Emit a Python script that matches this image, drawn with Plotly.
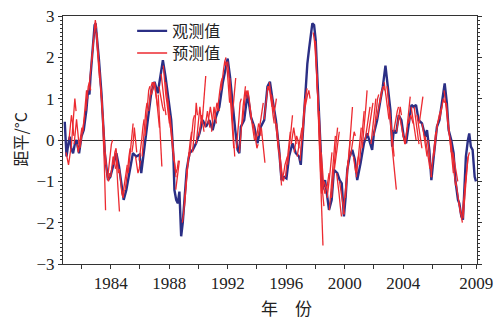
import plotly.graph_objects as go

# ---------------- data ----------------
obs_year = [1980.86, 1980.98, 1981.10, 1981.20, 1981.30, 1981.43, 1981.55, 1981.66, 1981.84, 1982.00,
            1982.16, 1982.34, 1982.45, 1982.55, 1982.62, 1982.80, 1982.90, 1982.97, 1983.10, 1983.20,
            1983.37, 1983.48, 1983.60, 1983.70, 1983.82, 1983.98, 1984.16, 1984.39, 1984.57, 1984.73,
            1984.89, 1985.07, 1985.30, 1985.52, 1985.75, 1985.98, 1986.09, 1986.32, 1986.54, 1986.77,
            1987.00, 1987.22, 1987.45, 1987.57, 1987.75, 1987.91, 1988.14, 1988.29, 1988.36, 1988.48,
            1988.59, 1988.70, 1988.82, 1988.93, 1989.04, 1989.20, 1989.39, 1989.61, 1989.84, 1990.07,
            1990.29, 1990.52, 1990.75, 1990.97, 1991.20, 1991.43, 1991.66, 1991.89, 1992.00, 1992.16,
            1992.34, 1992.52, 1992.68, 1992.80, 1992.90, 1993.13, 1993.36, 1993.59, 1993.82, 1994.04,
            1994.27, 1994.50, 1994.72, 1994.89, 1995.06, 1995.30, 1995.52, 1995.68, 1995.86, 1996.02,
            1996.20, 1996.43, 1996.66, 1996.88, 1997.00, 1997.11, 1997.29, 1997.45, 1997.57, 1997.68,
            1997.79, 1997.91, 1998.02, 1998.13, 1998.25, 1998.36, 1998.47, 1998.66, 1998.81, 1998.93,
            1999.11, 1999.27, 1999.50, 1999.66, 1999.80, 1999.95, 2000.07, 2000.18, 2000.34, 2000.52,
            2000.70, 2000.86, 2001.09, 2001.32, 2001.54, 2001.77, 2001.88, 2002.00, 2002.22, 2002.45,
            2002.61, 2002.79, 2002.97, 2003.13, 2003.25, 2003.36, 2003.52, 2003.70, 2003.88, 2004.04,
            2004.20, 2004.38, 2004.57, 2004.72, 2004.88, 2005.06, 2005.29, 2005.52, 2005.63, 2005.79,
            2005.93, 2006.09, 2006.31, 2006.48, 2006.66, 2006.84, 2006.99, 2007.11, 2007.29, 2007.45,
            2007.57, 2007.75, 2007.84, 2007.98, 2008.09, 2008.20, 2008.29, 2008.43, 2008.52, 2008.63,
            2008.75, 2008.89, 2008.98]
obs_val = [0.44, -0.40, -0.10, 0.08, -0.20, -0.32, -0.10, 0.00, -0.32, 0.08,
           0.24, 0.72, 1.20, 1.10, 1.53, 2.34, 2.78, 2.82, 2.40, 1.93,
           1.13, 0.32, -0.32, -0.64, -0.97, -0.89, -0.64, -0.32, -0.64, -1.04,
           -1.45, -1.21, -0.72, -0.32, -0.40, -0.35, -0.80, -0.08, 0.48, 1.13,
           1.41, 1.13, 1.69, 1.93, 1.53, 1.05, 0.48, -0.40, -1.21, -1.45,
           -1.53, -1.25, -2.33, -2.00, -1.53, -0.72, -0.32, -0.24, -0.08, 0.16,
           0.48, 0.32, 0.48, 0.24, 0.56, 0.80, 1.37, 1.85, 1.97, 1.53,
           0.80, 0.24, -0.24, -0.32, 0.32, 0.48, 1.13, 0.56, 0.32, -0.08,
           0.32, 0.48, 1.29, 1.41, 1.00, 0.48, -0.24, -0.97, -0.89, -0.93,
           -0.40, -0.08, -0.32, -0.40, -0.60, 0.00, 0.80, 1.85, 2.21, 2.50,
           2.82, 2.78, 2.42, 1.53, 0.72, -0.24, -1.21, -0.97, -1.37, -1.69,
           -1.45, -0.72, -0.80, -0.97, -1.05, -1.85, -1.37, -0.72, -0.40, -0.24,
           -0.48, -0.97, -0.56, -0.08, 0.16, -0.08, -0.24, 0.16, 0.48, 0.97,
           1.29, 1.80, 1.29, 0.72, -0.16, 0.24, 0.16, 0.60, 0.48, 0.08,
           -0.08, 0.40, 0.85, 0.80, 0.85, 0.48, 0.40, 0.08, 0.24, -0.24,
           -0.97, -0.40, 0.32, 0.48, 0.97, 1.37, 0.89, 0.24, 0.00, -0.32,
           -0.97, -1.45, -1.53, -1.85, -1.93, -1.13, -0.40, 0.00, 0.16, -0.16,
           -0.24, -0.89, -1.00]

# forecast runs: start year of each run and its monthly predicted values
pred_start = [1980.95, 1981.15, 1981.30, 1981.50, 1981.70, 1981.90, 1982.10, 1982.30, 1982.50, 1982.70,
              1982.90, 1983.05, 1983.20, 1983.35, 1983.40, 1983.60, 1983.80, 1984.00, 1984.20, 1984.35,
              1984.60, 1984.80, 1985.00, 1985.20, 1985.45, 1985.70, 1985.95, 1986.15, 1986.35, 1986.60,
              1986.80, 1987.00, 1987.25, 1987.30, 1987.45, 1987.60, 1987.75, 1987.90, 1988.05, 1988.30,
              1988.45, 1988.90, 1989.05, 1989.20, 1989.40, 1989.60, 1989.85, 1990.05, 1990.25, 1990.45,
              1990.65, 1990.90, 1991.10, 1991.30, 1991.55, 1991.80, 1992.00, 1992.15, 1992.30, 1992.60,
              1992.80, 1993.00, 1993.30, 1993.50, 1993.75, 1993.95, 1994.10, 1994.30, 1994.50, 1994.70,
              1994.85, 1995.00, 1995.15, 1995.35, 1995.55, 1995.75, 1995.95, 1996.10, 1996.35, 1996.55,
              1996.75, 1996.95, 1997.10, 1997.30, 1997.85, 1998.00, 1998.10, 1998.25, 1998.40, 1998.60,
              1998.80, 1998.95, 1999.10, 1999.30, 1999.45, 1999.65, 1999.90, 2000.05, 2000.20, 2000.40,
              2000.60, 2000.80, 2001.00, 2001.20, 2001.40, 2001.60, 2001.80, 2002.00, 2002.20, 2002.40,
              2002.70, 2002.90, 2003.05, 2003.20, 2003.35, 2003.55, 2003.75, 2003.95, 2004.15, 2004.35,
              2004.55, 2004.75, 2004.95, 2005.10, 2005.30, 2005.50, 2005.70, 2005.90, 2006.10, 2006.30,
              2006.50, 2006.80, 2006.95, 2007.10, 2007.25, 2007.40, 2007.60, 2007.80, 2008.00, 2008.10,
              2008.20]
pred_vals = [
    [-0.3, -0.5, -0.6, -0.4, -0.2], [0.0, 0.3, 0.6, 0.4, 0.1], [-0.2, 0.2, 0.6, 1.0, 0.7],
    [-0.1, 0.3, 0.5, 0.2, -0.1], [-0.1, -0.3, -0.1, 0.1, 0.3], [-0.2, 0.0, 0.2, 0.4, 0.6],
    [0.2, 0.5, 0.9, 1.2, 1.0], [0.7, 1.0, 1.3, 1.4, 1.2], [1.2, 1.5, 1.8, 2.1, 2.4],
    [1.9, 2.3, 2.6, 2.9, 2.7], [2.8, 2.7, 2.3, 1.9, 1.5], [2.6, 2.2, 1.7, 1.2, 0.9],
    [1.9, 1.5, 1.0, 0.5, 0.2], [1.2, 0.7, 0.2, -0.3, -0.6], [0.9, 0.2, -0.6, -1.7],
    [-0.3, -0.6, -0.9, -1.0, -0.8], [-0.9, -0.6, -0.3, -0.1, 0.0], [-0.9, -0.6, -0.4, -0.5, -0.7],
    [-0.6, -0.3, -0.2, -0.5, -0.8], [-0.3, -0.7, -1.2, -1.73], [-0.7, -1.0, -1.3, -1.4, -1.2],
    [-1.3, -1.2, -1.0, -0.8, -0.6], [-1.2, -1.0, -0.7, -0.4, -0.2], [-0.8, -0.5, -0.1, 0.2, 0.4],
    [-0.3, -0.1, 0.3, 0.0, -0.3], [-0.4, -0.6, -0.8, -0.7, -0.5], [-0.5, -0.3, 0.0, 0.3, 0.5],
    [-0.4, 0.0, 0.4, 0.7, 0.9], [0.1, 0.5, 0.9, 1.2, 1.3], [0.7, 1.0, 1.3, 1.4, 1.3],
    [1.1, 1.3, 1.4, 1.2, 1.0, 0.8], [1.4, 1.2, 0.9, 0.6, 0.3], [1.1, 0.6, 0.0, -0.64],
    [1.3, 1.1, 0.9, 0.8, 0.7], [1.6, 1.3, 1.0, 0.8, 0.6], [1.8, 1.4, 1.1, 0.9, 0.6, 0.4],
    [1.4, 1.1, 0.8, 0.5, 0.3], [1.0, 0.7, 0.4, 0.1, -0.2, -0.5], [0.6, 0.3, 0.0, -0.4, -0.7, -0.9],
    [-0.4, -0.6, -0.8, -0.7, -0.5], [-1.2, -1.0, -0.7, -0.5], [-2.0, -1.8, -1.4, -1.0, -0.7],
    [-1.6, -1.2, -0.8, -0.5, -0.3], [-0.8, -0.5, -0.2, 0.0, 0.2], [-0.4, -0.1, 0.2, 0.5, 0.6],
    [-0.3, 0.0, 0.4, 0.9, 0.6], [-0.1, 0.2, 0.5, 0.8, 0.5], [0.1, 0.3, 0.6, 0.4, 0.2],
    [0.4, 0.8, 1.2, 1.55], [0.3, 0.5, 0.7, 0.5, 0.3], [0.4, 0.6, 0.8, 0.6, 0.4],
    [0.2, 0.5, 0.8, 0.6, 0.4], [0.5, 0.7, 0.9, 0.8, 0.7], [0.7, 1.0, 1.2, 1.4, 1.5],
    [1.2, 1.5, 1.7, 1.9, 2.0], [1.8, 1.9, 1.7, 1.3, 0.9], [1.9, 1.6, 1.1, 0.6, 0.2, -0.2],
    [1.5, 1.0, 0.5, 0.0, -0.4], [0.5, 0.8, 1.2, 1.5], [-0.2, 0.1, 0.5, 0.9, 1.0],
    [-0.3, 0.0, 0.4, 0.8, 1.1, 1.3], [0.4, 0.7, 1.0, 1.2, 1.1], [1.0, 1.2, 1.0, 0.7, 0.5],
    [0.8, 0.6, 0.4, 0.2, 0.0], [0.4, 0.2, 0.0, -0.2, -0.1], [0.0, 0.2, 0.4, 0.3, 0.1],
    [0.1, 0.3, 0.5, 0.7, 0.9], [0.3, 0.0, -0.3, -0.55], [0.5, 0.8, 1.1, 1.3, 1.2],
    [1.2, 1.3, 1.2, 1.0, 0.8], [1.4, 1.2, 0.9, 0.6, 0.4], [1.1, 0.9, 0.7, 0.8, 1.0],
    [0.8, 0.6, 0.3, 0.0, -0.3], [0.4, 0.1, -0.3, -0.7, -1.1], [-0.3, -0.6, -0.8, -1.0, -0.9],
    [-0.9, -0.8, -0.6, -0.5, -0.4], [-0.9, -0.6, -0.3, 0.0, 0.2], [-0.6, -0.3, 0.0, 0.3, 0.6],
    [-0.1, 0.1, 0.3, 0.1, -0.1], [-0.3, -0.1, 0.1, 0.0, -0.2], [-0.4, -0.2, 0.0, 0.2, 0.3],
    [-0.5, -0.1, 0.3, 0.7, 1.0], [0.0, 0.4, 0.8, 1.1, 1.25], [0.8, 1.0, 1.1, 1.2, 1.0],
    [2.6, 2.4, 2.0, 1.5, 0.9], [2.4, 1.8, 1.0, 0.2, -0.6, -1.3], [1.6, 0.8, 0.0, -0.9, -1.8, -2.55],
    [0.7, 0.0, -0.7, -1.3, -1.6], [-0.3, -0.8, -1.1, -1.3, -1.2], [-1.0, -1.1, -1.2, -1.0, -0.8],
    [-1.4, -1.2, -0.9, -0.6, -0.3], [-1.7, -1.3, -0.9, -0.5, -0.2, 0.1], [-1.4, -1.0, -0.6, -0.3, 0.0, 0.3],
    [-0.7, -0.5, -0.2, 0.0, 0.2], [-0.8, -1.0, -1.3, -1.6, -1.85], [-1.0, -1.2, -1.5, -1.7, -1.8],
    [-1.8, -1.5, -1.1, -0.8, -0.5], [-1.4, -1.0, -0.6, -0.3, 0.0], [-0.7, -0.4, 0.0, 0.4, 0.8],
    [-0.4, -0.2, 0.0, 0.2, 0.1], [-0.4, -0.6, -0.8, -0.6, -0.4], [-0.9, -0.6, -0.3, 0.0, 0.3],
    [-0.6, -0.3, 0.1, 0.4, 0.7], [-0.2, 0.1, 0.5, 0.8, 1.2], [0.0, 0.2, 0.4, 0.6, 0.8],
    [0.1, 0.3, 0.5, 0.7, 0.9], [-0.1, 0.2, 0.5, 0.8, 1.0], [0.1, 0.4, 0.7, 1.0, 1.1],
    [0.5, 0.7, 0.9, 1.1, 1.2], [0.9, 1.1, 1.2, 1.3, 1.2], [1.4, 1.2, 1.0, 0.7, 0.5],
    [1.3, 1.0, 0.7, 0.3, 0.0], [0.8, 0.5, 0.2, -0.1, -0.4], [0.0, -0.3, -0.6, -0.9, -1.2],
    [0.2, 0.4, 0.6, 0.7, 0.8], [0.2, 0.4, 0.6, 0.8, 0.6], [0.6, 0.4, 0.2, 0.1, 0.0],
    [0.2, 0.0, -0.1, 0.1, 0.3], [-0.1, 0.2, 0.5, 0.8, 1.05], [0.4, 0.5, 0.6, 0.5, 0.4],
    [0.8, 0.6, 0.4, 0.2, 0.0], [0.8, 0.6, 0.4, 0.1, -0.1], [0.6, 0.4, 0.2, 0.0, -0.2],
    [0.4, 0.6, 0.8, 1.05], [0.4, 0.2, 0.0, -0.2, -0.4], [0.1, -0.1, -0.3, -0.5, -0.7],
    [0.0, -0.3, -0.6, -0.9], [-0.9, -0.6, -0.3, 0.0, 0.2], [-0.4, -0.1, 0.2, 0.4, 0.5],
    [0.3, 0.5, 0.6, 0.7, 0.8], [0.5, 0.7, 0.9, 1.0, 0.9], [1.2, 1.0, 0.7, 0.4, 0.2],
    [0.9, 0.6, 0.3, 0.0, -0.3], [0.3, 0.1, -0.2, -0.5, -0.8], [0.0, -0.2, -0.5, -0.8, -1.1],
    [-0.3, -0.5, -0.7, -0.9, -1.0], [-1.0, -1.2, -1.4, -1.6, -1.8], [-1.5, -1.7, -1.9, -2.0],
    [-1.9, -1.6, -1.3, -1.0, -0.8], [-1.9, -1.5, -1.1, -0.7, -0.4], [-1.2, -0.9, -0.6, -0.4, -0.3],
]
lead_step = 1 / 12

x_tickvals = [1982, 1984, 1986, 1988, 1990, 1992, 1994, 1996, 1998, 2000, 2002, 2004, 2006, 2008, 2009]
x_ticktext = ["", "1984", "", "1988", "", "1992", "", "1996", "", "2000", "", "2004", "", "", "2009"]
y_tickvals = [-3, -2, -1, 0, 1, 2, 3]

# ---------------- figure ----------------
BLUE = "#2b2f85"
RED = "#ec2a30"
serif = "Liberation Serif"
cjk = "Noto Sans CJK SC"

fig = go.Figure()
fig.add_trace(go.Scatter(x=obs_year, y=obs_val, mode="lines", name="观测值",
                         line=dict(color=BLUE, width=2.4), legend="legend"))
for i, (s, vals) in enumerate(zip(pred_start, pred_vals)):
    xs = [s + k * lead_step for k in range(len(vals))]
    fig.add_trace(go.Scatter(x=xs, y=vals, mode="lines", name="预测值",
                             line=dict(color=RED, width=1.3), legend="legend2",
                             showlegend=(i == 0)))

leg_common = dict(x=0.167, xanchor="left", yanchor="top",
                  bgcolor="rgba(0,0,0,0)", borderwidth=0,
                  font=dict(family=cjk, size=16, color="#222"), itemwidth=30)

fig.update_layout(
    width=500, height=320,
    margin=dict(l=63, r=23, t=16, b=56, autoexpand=False),
    paper_bgcolor="white", plot_bgcolor="white",
    showlegend=True,
    legend=dict(y=1.008, **leg_common),
    legend2=dict(y=0.919, **leg_common),
    annotations=[
        dict(text="距平/°C", xref="paper", yref="paper", x=-0.105, y=0.5,
             xanchor="center", yanchor="middle", textangle=-90, showarrow=False,
             font=dict(family=cjk, size=16, color="#222")),
        dict(text="年　份", xref="paper", yref="paper", x=0.541, y=0, yshift=-43,
             xanchor="center", yanchor="middle", showarrow=False,
             font=dict(family=cjk, size=17, color="#222")),
    ],
)
fig.update_xaxes(range=[1980.74, 2009.05], tickmode="array", tickvals=x_tickvals, ticktext=x_ticktext,
                 ticks="outside", ticklen=4, tickwidth=1, tickcolor="#333", automargin=False,
                 showline=True, linecolor="#333", linewidth=1, mirror=True,
                 showgrid=False, zeroline=False,
                 tickfont=dict(family=serif, size=17, color="#222"))
fig.update_yaxes(range=[-3, 3], tickmode="array", tickvals=y_tickvals, automargin=False,
                 ticks="outside", ticklen=4, tickwidth=1, tickcolor="#333",
                 minor=dict(dtick=0.1, ticks="outside", ticklen=2, tickcolor="#333", showgrid=False),
                 showline=True, linecolor="#333", linewidth=1, mirror="ticks",
                 showgrid=False, zeroline=True, zerolinecolor="#333", zerolinewidth=1,
                 tickfont=dict(family=serif, size=17, color="#222"))

fig.write_html("out.html", config={"displayModeBar": False},
               post_script="document.body.style.margin='0';document.body.style.overflow='hidden';")
